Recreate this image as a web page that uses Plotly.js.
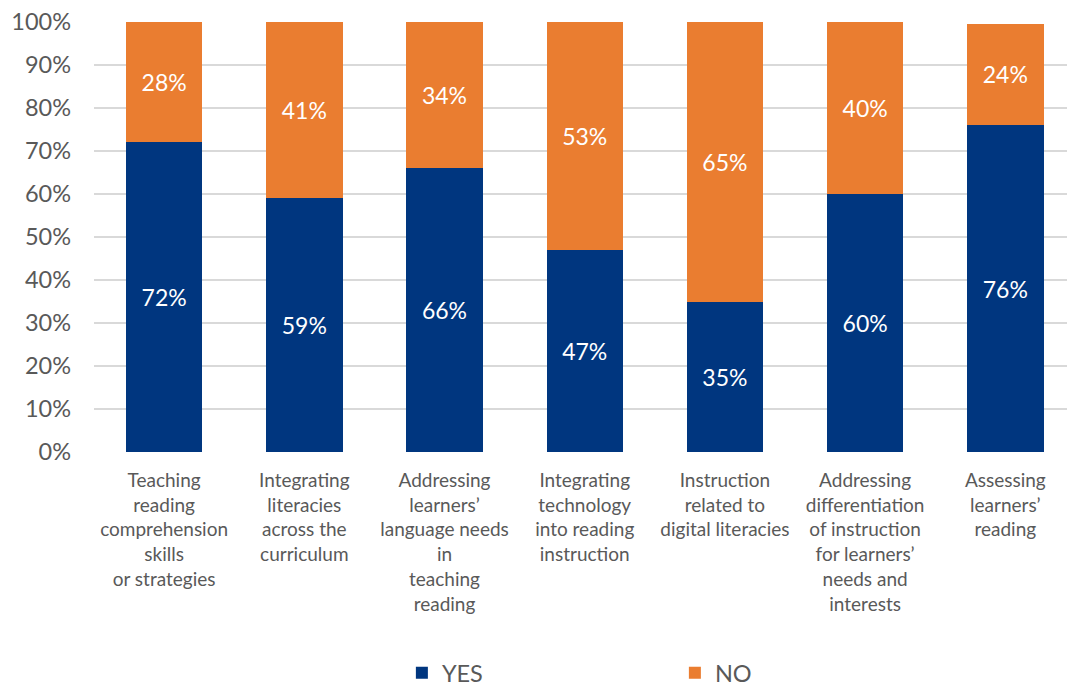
<!DOCTYPE html>
<html><head><meta charset="utf-8">
<script src="https://cdn.plot.ly/plotly-3.0.1.min.js"></script>
<style>body{margin:0;background:#fff}#chart{width:1067px;height:688px}</style>
</head><body><div id="chart"></div>
<script>
const categories = [
  "Teaching<br>reading<br>comprehension<br>skills<br>or strategies",
  "Integrating<br>literacies<br>across the<br>curriculum",
  "Addressing<br>learners’<br>language needs<br>in<br>teaching<br>reading",
  "Integrating<br>technology<br>into reading<br>instruction",
  "Instruction<br>related to<br>digital literacies",
  "Addressing<br>differentiation<br>of instruction<br>for learners’<br>needs and<br>interests",
  "Assessing<br>learners’<br>reading"
];
const yesValues = [72, 59, 66, 47, 35, 60, 76];
const noValues = [28, 41, 34, 53, 65, 40, 23.6];

const font = "Lato, 'Open Sans', sans-serif";
const mk = (name, vals, color) => ({
  type: 'bar', name: name, x: categories, y: vals,
  marker: {color: color},
  text: vals.map(v => Math.round(v) + '%'),
  textposition: 'inside', insidetextanchor: 'middle',
  textfont: {color: '#ffffff', size: 23, family: font},
  hoverinfo: 'skip', cliponaxis: false
});
const data = [mk('YES', yesValues, '#00367F'), mk('NO', noValues, '#EA7D30')];
const layout = {
  width: 1067, height: 688, barmode: 'stack', bargap: 0.455,
  margin: {l: 94, r: 0, t: 22, b: 236},
  paper_bgcolor: '#fff', plot_bgcolor: '#fff',
  font: {family: font, color: '#595959'},
  xaxis: {range: [-0.5, 6.44], tickfont: {size: 19, color: '#595959', family: font},
          showgrid: false, zeroline: false, showline: false, ticks: '', automargin: false,
          ticklabelstandoff: 15},
  yaxis: {range: [0, 100], dtick: 10, ticksuffix: '%', gridcolor: '#D9D9D9', gridwidth: 2,
          tickfont: {size: 23.5, color: '#595959', family: font}, zeroline: false,
          ticklabelstandoff: 22, automargin: false},
  showlegend: true,
  legend: {orientation: 'h', x: 0.597, xanchor: 'center', yref: 'container', y: 0.022, yanchor: 'middle',
           entrywidth: 228, font: {size: 23.5, color: '#595959', family: font},
           traceorder: 'normal'}
};
Plotly.newPlot('chart', data, layout, {displayModeBar: false, staticPlot: true});
</script></body></html>
